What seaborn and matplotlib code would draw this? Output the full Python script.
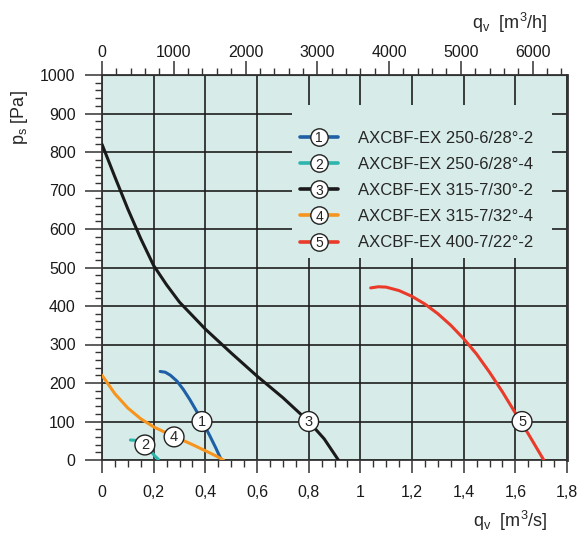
import pandas as pd
import matplotlib
matplotlib.use("Agg")
import matplotlib.pyplot as plt
import seaborn as sns
from matplotlib.lines import Line2D
from matplotlib.text import Text
from matplotlib.patches import Rectangle
from matplotlib.legend_handler import HandlerBase
from matplotlib.ticker import MultipleLocator, FixedLocator, FuncFormatter

# curve data (q in m3/s, p in Pa)
names = ["AXCBF-EX 250-6/28°-2", "AXCBF-EX 250-6/28°-4", "AXCBF-EX 315-7/30°-2",
         "AXCBF-EX 315-7/32°-4", "AXCBF-EX 400-7/22°-2"]
colores = ["#1f5fa6", "#2bb5ad", "#1a1a1a", "#f7941d", "#ea3b2a"]

q1 = [0.225, 0.245, 0.265, 0.29, 0.315, 0.34, 0.365, 0.39, 0.415, 0.44, 0.462]
p1 = [230, 228, 220, 205, 183, 157, 128, 98, 66, 32, 0]
q2 = [0.11, 0.13, 0.15, 0.17, 0.19, 0.205, 0.218]
p2 = [52, 51, 46, 36, 22, 10, 2]
q3 = [0.0, 0.05, 0.1, 0.15, 0.2, 0.25, 0.3, 0.4, 0.5, 0.6, 0.7, 0.8, 0.86, 0.915]
p3 = [820, 735, 652, 575, 505, 455, 410, 340, 278, 218, 162, 100, 55, 0]
q4 = [0.0, 0.05, 0.1, 0.15, 0.2, 0.25, 0.3, 0.35, 0.4, 0.44, 0.47]
p4 = [220, 172, 135, 107, 86, 70, 55, 40, 24, 11, 0]
q5 = [1.04, 1.07, 1.1, 1.15, 1.2, 1.25, 1.3, 1.35, 1.4, 1.45, 1.5, 1.55, 1.6, 1.65, 1.71]
p5 = [447, 450, 449, 440, 425, 405, 380, 350, 315, 275, 228, 177, 122, 68, 0]

# where the circled numbers sit on the curves
etiq_q = [0.387, 0.166, 0.8, 0.279, 1.626]
etiq_p = [100, 39, 100, 60, 100]

top_ticks = [0, 1000, 2000, 3000, 4000, 5000, 6000]

curvas = [(q1, p1), (q2, p2), (q3, p3), (q4, p4), (q5, p5)]
filas = []
for nombre, (q, p) in zip(names, curvas):
    for a, b in zip(q, p):
        filas.append({"q": a, "p": b, "modelo": nombre})
data = pd.DataFrame(filas)


class HandlerNumero(HandlerBase):
    # line + white circle + number, like the legend of the catalog
    def __init__(self, numero, color):
        super().__init__()
        self.numero = numero
        self.color = color

    def create_artists(self, legend, orig_handle, xdescent, ydescent, width, height, fontsize, trans):
        y = height / 2 - ydescent
        xc = width / 2 - xdescent
        linea = Line2D([-xdescent, width - xdescent], [y, y], color=self.color, linewidth=2.6,
                       transform=trans)
        circulo = Line2D([xc], [y], linestyle="none", marker="o", markersize=12.5,
                         markerfacecolor="white", markeredgecolor="#222222", markeredgewidth=1,
                         transform=trans)
        txt = Text(xc, y, str(self.numero), ha="center", va="center_baseline", fontsize=10,
                   color="#222222", transform=trans)
        return [linea, circulo, txt]


sns.set_style("ticks")
plt.rcParams["font.family"] = ["Liberation Sans", "DejaVu Sans"]

fondo = "#d7ece8"
fig = plt.figure(figsize=(5.81, 5.35), dpi=100)
ax = fig.add_axes([102 / 581, 75 / 535, 465 / 581, 385 / 535])
ax.set_facecolor(fondo)

sns.lineplot(data=data, x="q", y="p", hue="modelo", palette=colores, sort=False,
             estimator=None, linewidth=2.2, legend=False, ax=ax, zorder=3)

ax.set_xlim(0, 1.8)
ax.set_ylim(0, 1000)
ax.xaxis.set_major_locator(MultipleLocator(0.2))
ax.xaxis.set_minor_locator(MultipleLocator(0.05))
ax.yaxis.set_major_locator(MultipleLocator(100))
ax.yaxis.set_minor_locator(MultipleLocator(20))
ax.xaxis.set_major_formatter(FuncFormatter(lambda v, pos: ("%g" % round(v, 1)).replace(".", ",")))
ax.grid(True, which="major", color="#1e1e1e", linewidth=1.2)
ax.tick_params(which="major", length=9, width=1.1, color="#333333", labelsize=11.5,
               labelcolor="#1a1a1a")
ax.tick_params(axis="x", which="major", pad=9)
ax.tick_params(axis="y", which="major", length=12, pad=7)
ax.tick_params(which="minor", length=5, width=1.0, color="#333333")
for s in ax.spines.values():
    s.set_color("#333333")
    s.set_linewidth(1.3)
ax.spines["right"].set_linewidth(2)
ax.set_xlabel("")
ax.set_ylabel("")

# top axis in m3/h
ax2 = ax.secondary_xaxis("top", functions=(lambda x: x * 3600, lambda x: x / 3600))
ax2.xaxis.set_major_locator(FixedLocator(top_ticks))
ax2.xaxis.set_minor_locator(MultipleLocator(200))
ax2.tick_params(which="major", length=10, width=1.1, color="#333333", labelsize=11.5,
                labelcolor="#1a1a1a", pad=1)
ax2.tick_params(which="minor", length=5, width=1.0, color="#333333")
ax2.spines["top"].set_color("#333333")

# box behind the legend hides the grid there
ax.add_patch(Rectangle((0.4086, 0.525), 0.559, 0.397, transform=ax.transAxes,
                       facecolor=fondo, edgecolor="none", zorder=1))

# circled numbers on curves
for i in range(5):
    ax.text(etiq_q[i], etiq_p[i], str(i + 1), ha="center", va="center", fontsize=10.5, zorder=5,
            bbox=dict(boxstyle="circle,pad=0.2", fc="white", ec="#222222", lw=1))

handles = [Line2D([], [], color=c) for c in colores]
hmap = {h: HandlerNumero(i + 1, colores[i]) for i, h in enumerate(handles)}
leg = ax.legend(handles, names, handler_map=hmap, loc="upper left",
                bbox_to_anchor=(0.4258, 0.855), fontsize=12, frameon=False,
                handlelength=2.3, handletextpad=1.2, labelspacing=0.67, borderpad=0,
                borderaxespad=0)
leg.set_zorder(4)

fig.text(547 / 581, 1 - 23 / 535, r"q$_\mathregular{v}$  [m$^\mathregular{3}$/h]", ha="right",
         va="center", fontsize=13)
fig.text(547 / 581, 1 - 521 / 535, r"q$_\mathregular{v}$  [m$^\mathregular{3}$/s]", ha="right",
         va="center", fontsize=13)
fig.text(20 / 581, 1 - 118 / 535, r"p$_\mathregular{s}$ [Pa]", rotation=90, ha="center",
         va="center", fontsize=13)

fig.savefig("out.png", dpi=100)
